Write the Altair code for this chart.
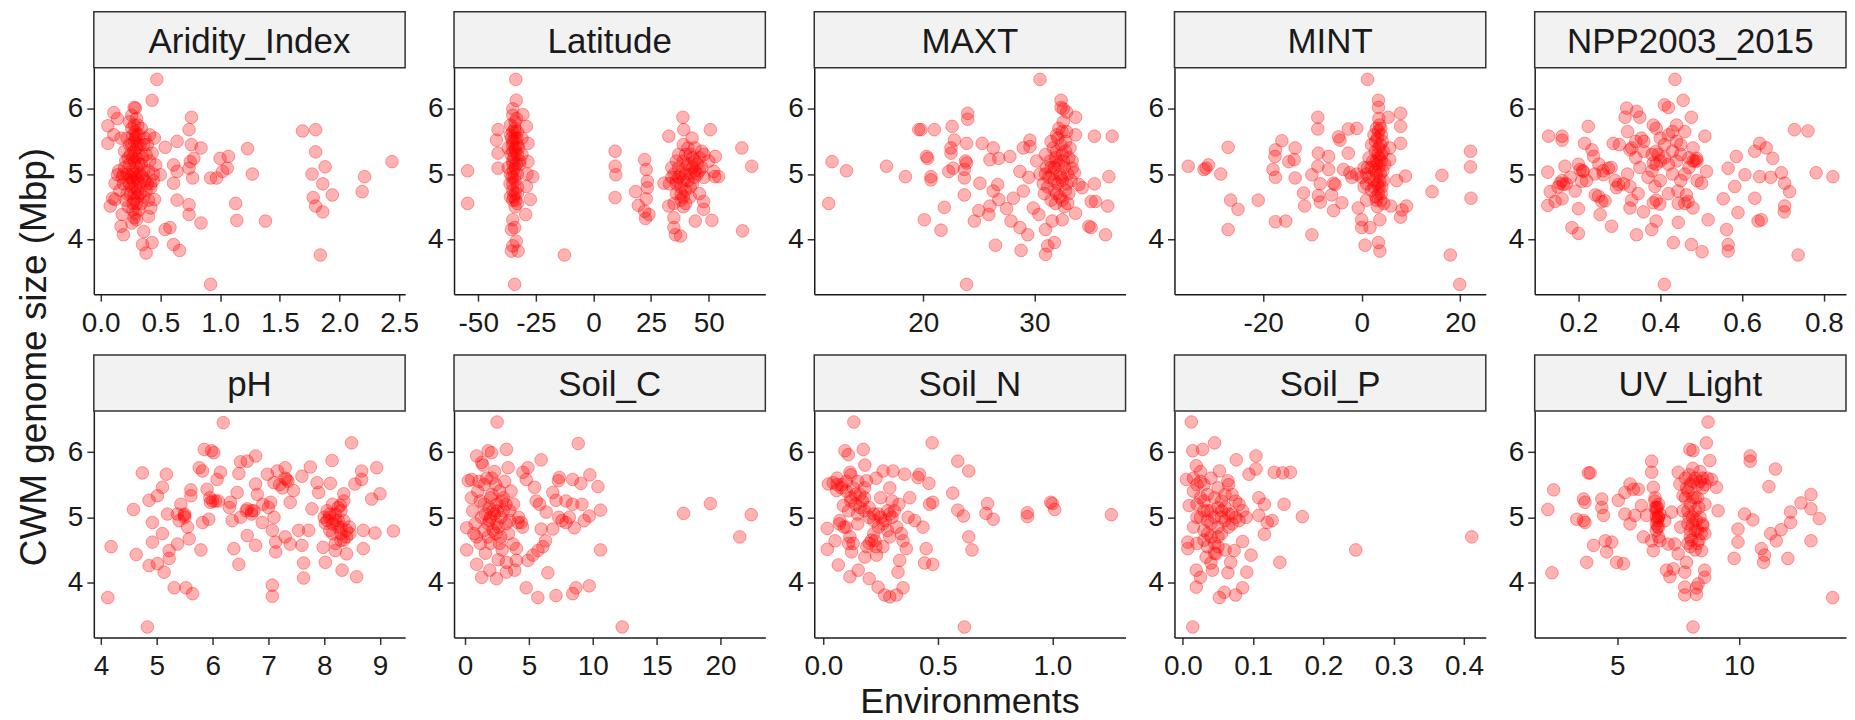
import altair as alt
import pandas as pd

FONT = "Liberation Sans"
PANEL_W = 312
PANEL_H = 227
Y_DOMAIN = [3.16, 6.63]
Y_TICKS = [4, 5, 6]

ARIDITY = [
    (0.47, 6.45), (0.43, 6.13), (0.92, 3.31), (0.76, 5.87), (0.74, 5.68), (1.69, 5.66), (1.80, 5.68),
    (1.80, 5.34), (1.88, 5.11), (1.77, 5.00), (1.86, 4.85), (1.94, 4.68), (1.78, 4.64), (1.80, 4.51),
    (1.86, 4.42), (1.84, 3.76), (2.19, 4.73), (2.21, 4.96), (2.44, 5.19), (1.23, 5.39), (1.27, 5.00),
    (1.13, 4.55), (1.14, 4.29), (1.38, 4.28), (1.07, 5.27), (1.00, 5.24), (0.97, 4.94), (0.92, 4.94),
    (1.02, 5.04), (1.06, 5.09), (0.84, 4.25), (0.84, 5.40), (0.76, 5.45), (0.75, 5.19), (0.78, 5.24),
    (0.74, 5.09), (0.77, 4.94), (0.74, 4.53), (0.74, 4.38), (0.64, 5.50), (0.54, 5.41), (0.61, 5.14),
    (0.64, 5.04), (0.61, 4.86), (0.64, 4.60), (0.54, 4.15), (0.58, 4.18), (0.61, 3.92), (0.66, 3.83),
    (0.50, 4.99), (0.06, 5.74), (0.06, 5.47), (0.11, 5.94), (0.14, 5.85), (0.11, 5.60), (0.10, 4.63),
    (0.08, 4.51), (0.12, 4.61), (0.17, 4.20), (0.19, 4.07), (0.18, 4.38), (0.14, 4.99), (0.12, 4.86),
    (0.28, 6.02), (0.29, 6.01), (0.24, 5.80), (0.36, 4.12), (0.35, 3.92), (0.38, 3.79), (0.43, 3.95),
    (0.26, 4.25), (0.28, 4.33), (0.42, 4.48), (0.45, 4.61), (0.45, 5.55), (0.41, 5.60), (0.43, 5.32),
    (0.46, 5.14), (0.42, 4.79), (0.22, 5.55), (0.24, 5.45), (0.25, 5.30), (0.26, 5.70), (0.27, 5.60),
    (0.28, 5.50), (0.28, 5.20), (0.29, 5.65), (0.30, 5.40), (0.30, 5.10), (0.31, 5.75), (0.32, 5.30),
    (0.33, 5.00), (0.27, 4.90), (0.26, 4.80), (0.25, 4.70), (0.28, 4.60), (0.30, 4.55), (0.31, 4.75),
    (0.33, 4.85), (0.34, 5.15), (0.35, 4.95), (0.36, 5.45), (0.38, 5.30), (0.38, 4.75), (0.40, 4.60),
    (0.40, 5.05), (0.42, 4.85), (0.20, 5.10), (0.19, 4.85), (0.18, 4.95), (0.21, 4.60), (0.23, 4.50),
    (0.22, 5.00), (0.20, 5.35), (0.17, 5.55), (0.15, 5.05), (0.16, 4.75), (0.29, 4.40), (0.32, 4.45),
    (0.36, 4.65), (0.26, 5.90), (0.30, 5.85), (0.34, 5.70), (0.37, 5.55), (0.24, 5.15), (0.29, 5.00),
    (0.31, 4.90), (0.23, 4.90), (0.27, 5.05),
    (0.27, 5.25), (0.28, 5.35), (0.29, 5.55), (0.30, 5.60), (0.31, 5.45), (0.32, 5.15), (0.30, 5.25),
    (0.29, 4.80), (0.28, 4.70), (0.31, 4.65), (0.27, 4.55), (0.26, 5.00), (0.25, 4.95), (0.24, 4.85),
    (0.33, 4.70), (0.34, 4.55), (0.35, 5.25), (0.36, 5.05), (0.37, 4.90), (0.39, 4.85), (0.41, 5.20),
    (0.39, 5.45), (0.22, 4.70), (0.21, 5.20), (0.19, 5.00), (0.23, 5.25), (0.26, 5.45), (0.28, 5.75),
    (0.30, 4.95), (0.32, 5.60), (0.33, 5.45), (0.27, 4.45), (0.30, 4.30), (0.40, 4.35), (0.44, 4.90),
    (0.44, 5.00),
]

LATITUDE = [
    (-33.7, 6.45), (-33.5, 6.13), (-35.0, 6.00), (-34.2, 3.31), (-35.6, 3.82), (-32.7, 3.82), (-35.0, 3.90),
    (-33.5, 3.97), (-35.6, 4.15), (-34.2, 4.18), (-35.0, 4.30), (-29.4, 4.38), (-27.4, 4.61), (-26.3, 4.96),
    (-29.1, 4.81), (-28.8, 5.00), (-28.4, 5.19), (-28.4, 5.47), (-29.1, 5.73), (-30.6, 5.91), (-41.4, 5.68),
    (-42.1, 5.52), (-41.4, 5.32), (-41.4, 5.09), (-54.6, 5.05), (-54.6, 4.55), (-12.6, 3.76),
    (-36, 5.60), (-35, 5.50), (-34, 5.40), (-33, 5.30), (-35, 5.20), (-34, 5.10), (-36, 5.75), (-33, 5.65),
    (-34, 5.55), (-35, 5.35), (-33, 5.45), (-32, 5.20), (-36, 5.00), (-35, 4.85), (-34, 4.70), (-35, 4.60),
    (-33, 4.55), (-36, 4.65), (-34, 4.90), (-33, 5.00), (-32, 5.15), (-31, 5.55), (-31, 5.30), (-37, 5.40),
    (-37, 5.10), (-34, 4.50), (-35, 4.75), (-33, 4.80), (-34, 5.80), (-35, 5.90),
    (-34.5, 5.25), (-33.8, 5.35), (-35.2, 5.45), (-34.0, 5.65), (-33.2, 5.55), (-35.5, 5.55), (-34.8, 5.05),
    (-33.5, 5.15), (-35.8, 5.30), (-34.3, 4.95), (-33.0, 4.70), (-35.3, 4.95), (-34.6, 4.65), (-33.7, 4.60),
    (-36.2, 4.85), (-32.5, 5.40), (-34.1, 5.70), (-35.0, 5.65), (-33.4, 5.85), (-34.9, 5.15),
    (9.4, 5.35), (9.4, 5.12), (9.7, 4.99), (9.4, 4.64), (18.3, 4.73), (19.5, 4.52), (22.2, 5.22),
    (22.9, 5.07), (23.4, 4.89), (23.4, 4.79), (22.9, 4.62), (22.2, 4.43), (22.6, 4.32), (24.1, 4.38),
    (32.7, 5.58), (38.8, 5.87), (39.2, 5.68), (50.7, 5.68), (64.4, 5.40), (68.7, 5.12), (64.7, 4.13),
    (51.4, 4.29), (44.2, 4.28), (47.8, 4.58), (47.8, 4.46), (34.9, 4.18), (35.6, 4.07), (37.8, 4.05),
    (34.9, 4.33), (32.7, 4.51), (30.6, 4.86), (54.3, 4.96), (52.6, 4.96), (52.9, 5.27), (52.2, 5.04),
    (42.8, 5.55), (35, 5.00), (36, 4.90), (37, 5.10), (38, 4.80), (39, 5.20), (40, 5.00), (41, 4.90),
    (42, 5.30), (43, 5.10), (44, 5.20), (45, 5.00), (46, 5.25), (47, 5.10), (48, 4.95), (38, 4.60),
    (39, 4.50), (40, 4.55), (36, 4.70), (34, 5.10), (33, 4.85), (41, 5.40), (44, 5.40), (46, 4.70),
    (43, 4.85), (37, 5.30), (39, 5.45), (42, 4.65), (50, 5.20), (48, 5.30), (35, 4.55),
    (38, 5.00), (40, 5.10), (42, 5.00), (44, 5.05), (39, 4.90), (41, 5.15), (43, 5.25), (45, 5.15),
    (37, 4.95), (36, 5.20), (40, 4.75), (38, 4.70), (42, 4.80), (39, 4.65), (44, 4.95), (46, 5.05),
    (47, 5.35), (40, 5.30), (36, 4.85), (34, 4.95),
]

MAXT = [
    (30.5, 6.45), (23.9, 3.31), (11.5, 4.55), (11.8, 5.19), (13.1, 5.05), (16.7, 5.12), (18.4, 4.96),
    (19.6, 5.68), (19.8, 5.68), (21.0, 5.68), (20.3, 5.27), (20.4, 5.24), (20.7, 4.96), (20.7, 4.91),
    (20.1, 4.30), (21.6, 4.14), (21.9, 4.49), (22.6, 5.73), (22.8, 5.52), (22.5, 5.40), (22.5, 5.32),
    (22.3, 5.04), (22.7, 5.09), (24.0, 5.93), (24.0, 5.84), (23.9, 5.47), (23.8, 5.20), (23.9, 5.17),
    (23.7, 5.07), (23.7, 4.94), (23.7, 4.68), (25.1, 4.86), (25.3, 5.47), (26.3, 5.40), (24.6, 4.28),
    (25.0, 4.44), (26.0, 4.51), (25.9, 4.38), (26.5, 3.91), (28.8, 3.83), (29.4, 4.07), (28.7, 4.18),
    (27.9, 4.28), (27.5, 4.47), (26.8, 4.61), (26.3, 4.74), (26.7, 4.84), (26.0, 5.22), (26.8, 5.24),
    (27.8, 5.27), (29.0, 5.40), (29.6, 5.52), (29.6, 5.42), (28.7, 5.04), (28.1, 4.63), (29.0, 4.74),
    (29.9, 4.48), (30.4, 4.38), (31.0, 4.15), (31.2, 3.90), (31.0, 3.77), (31.8, 3.95), (31.6, 4.28),
    (32.5, 4.30), (33.7, 4.40), (32.4, 6.13), (32.4, 6.02), (33.7, 5.87), (33.7, 5.60), (35.4, 5.58),
    (37.0, 5.58), (36.7, 4.96), (35.4, 4.85), (34.0, 4.84), (34.3, 4.79), (35.1, 4.58), (35.5, 4.58),
    (36.6, 4.51), (36.4, 4.07), (35.1, 4.18), (34.9, 4.20), (33.4, 5.09), (33.6, 5.02),
    (31.0, 5.00), (31.5, 5.10), (32.0, 5.20), (32.5, 5.30), (32.8, 5.50), (32.2, 5.70), (32.6, 5.80),
    (31.8, 4.90), (31.2, 4.80), (32.0, 4.70), (32.5, 4.60), (33.0, 4.55), (31.5, 4.60), (32.8, 4.75),
    (33.0, 5.00), (33.2, 5.40), (31.0, 5.30), (30.5, 5.00), (30.8, 4.85), (31.7, 5.40), (32.3, 5.00),
    (32.7, 5.10), (33.3, 4.90), (32.1, 5.55), (31.4, 5.20), (32.9, 5.65), (33.1, 5.25), (31.9, 4.55),
    (30.2, 5.20), (29.5, 4.95),
    (31.8, 5.10), (32.2, 5.15), (32.6, 5.20), (32.0, 5.35), (32.4, 5.45), (32.8, 5.35), (31.6, 5.00),
    (32.1, 4.85), (32.5, 4.90), (32.9, 4.85), (31.3, 4.95), (31.8, 4.75), (32.3, 4.65), (32.7, 4.50),
    (33.1, 4.70), (31.5, 5.50), (32.0, 5.60), (32.5, 5.65), (32.9, 5.95), (32.6, 6.00), (31.1, 5.10),
    (30.9, 4.70), (33.4, 5.20), (32.4, 4.95), (31.9, 5.25),
]

MINT = [
    (1.2, 6.45), (19.9, 3.31), (18.0, 3.76), (22.1, 5.35), (22.1, 5.11), (22.2, 4.63), (16.3, 4.98),
    (14.3, 4.73), (-35.2, 5.12), (-31.6, 5.09), (-31.1, 5.14), (-32.0, 5.07), (-28.6, 5.00), (-27.1, 5.41),
    (-26.6, 4.60), (-25.1, 4.46), (-27.1, 4.15), (-21.0, 4.60), (-17.5, 4.27), (-15.4, 4.28), (-16.2, 5.51),
    (-17.5, 5.37), (-17.6, 5.27), (-18.0, 5.07), (-17.5, 4.95), (-14.8, 5.19), (-13.7, 5.22), (-13.5, 5.40),
    (-13.5, 4.94), (-11.8, 4.71), (-11.6, 4.51), (-10.1, 4.07), (-8.9, 5.87), (-8.9, 5.69), (-8.8, 5.32),
    (-8.9, 5.12), (-10.1, 4.99), (-8.4, 4.85), (-8.8, 4.67), (-8.4, 4.57), (-6.7, 5.27), (-6.7, 5.07),
    (-5.7, 4.86), (-5.4, 4.84), (-6.1, 4.68), (-5.7, 4.44), (-4.0, 4.56), (-4.7, 5.57), (-4.4, 5.52),
    (-2.7, 5.69), (-2.7, 5.32), (-3.7, 5.07), (-2.4, 5.02), (-0.7, 4.48), (0.0, 4.30), (0.0, 4.18),
    (0.7, 3.91), (1.7, 4.18), (3.4, 6.13), (3.4, 6.02), (3.7, 3.82), (3.4, 3.95), (3.7, 4.30), (5.4, 5.87),
    (7.9, 5.93), (7.9, 5.73), (7.9, 5.47), (7.1, 4.90), (8.9, 4.97), (9.1, 4.51), (8.2, 4.45), (7.9, 4.34),
    (5.9, 4.51), (5.7, 5.22), (5.7, 5.40), (-1.0, 5.70),
    (1.0, 5.00), (2.0, 5.10), (3.0, 5.20), (3.5, 5.40), (4.0, 5.60), (3.0, 5.70), (4.0, 5.30), (2.5, 4.90),
    (3.5, 4.80), (4.0, 4.70), (3.0, 4.60), (4.5, 4.55), (2.0, 4.75), (1.0, 4.85), (0.5, 5.10), (3.8, 5.00),
    (4.2, 5.50), (3.2, 5.55), (2.8, 5.35), (4.4, 4.90), (1.5, 5.25), (0.0, 4.95), (2.0, 5.45), (3.6, 5.75),
    (3.2, 4.50), (4.7, 5.15), (-1.0, 5.00), (-2.0, 4.95), (1.0, 4.60), (2.5, 5.60),
    (3.0, 5.00), (3.5, 5.10), (4.0, 5.20), (3.3, 5.30), (3.8, 5.45), (3.4, 5.65), (2.8, 5.50), (3.2, 4.85),
    (3.7, 4.90), (4.1, 4.80), (3.4, 4.70), (3.9, 4.60), (2.7, 5.05), (2.3, 5.20), (3.1, 5.15), (3.6, 5.25),
    (4.3, 5.05), (2.5, 4.80), (1.5, 4.95), (0.5, 4.80), (1.2, 5.10), (4.4, 5.35), (3.5, 5.85), (3.9, 5.70),
    (2.9, 4.65),
]

NPP = [
    (0.436, 6.45), (0.410, 3.31), (0.456, 6.13), (0.420, 6.02), (0.410, 6.06), (0.476, 5.87), (0.318, 6.01),
    (0.314, 5.87), (0.342, 5.96), (0.350, 5.87), (0.383, 5.75), (0.390, 5.70), (0.127, 5.58), (0.160, 5.58),
    (0.160, 5.52), (0.224, 5.73), (0.215, 5.47), (0.233, 5.37), (0.237, 5.27), (0.125, 5.03), (0.131, 4.73),
    (0.125, 4.52), (0.143, 4.58), (0.160, 4.62), (0.155, 4.86), (0.163, 4.84), (0.167, 5.12), (0.184, 4.18),
    (0.200, 4.09), (0.200, 4.47), (0.192, 4.74), (0.208, 4.89), (0.204, 5.07), (0.212, 5.04), (0.241, 4.68),
    (0.249, 4.66), (0.257, 4.58), (0.253, 4.38), (0.265, 4.59), (0.261, 4.99), (0.281, 4.20), (0.273, 5.09),
    (0.285, 5.47), (0.298, 4.84), (0.293, 4.79), (0.326, 4.48), (0.326, 5.37), (0.326, 4.81), (0.342, 4.07),
    (0.346, 4.70), (0.359, 4.42), (0.354, 5.55), (0.379, 4.15), (0.390, 4.28), (0.383, 4.56), (0.399, 4.54),
    (0.387, 4.81), (0.383, 5.17), (0.395, 5.30), (0.432, 3.95), (0.444, 4.26), (0.443, 4.74), (0.444, 4.55),
    (0.476, 3.92), (0.502, 3.81), (0.480, 4.48), (0.464, 4.68), (0.468, 4.58), (0.485, 5.20), (0.489, 5.24),
    (0.501, 4.86), (0.509, 5.58), (0.513, 5.04), (0.517, 4.30), (0.554, 4.62), (0.566, 5.09), (0.562, 4.15),
    (0.566, 3.92), (0.566, 3.82), (0.590, 4.41), (0.586, 5.27), (0.582, 4.81), (0.607, 4.99), (0.631, 5.35),
    (0.643, 5.47), (0.659, 5.40), (0.675, 5.24), (0.631, 4.63), (0.639, 4.28), (0.647, 4.30), (0.643, 4.96),
    (0.670, 4.95), (0.696, 5.02), (0.704, 4.86), (0.716, 4.73), (0.704, 4.51), (0.703, 4.42), (0.728, 5.68),
    (0.761, 5.66), (0.737, 3.76), (0.781, 5.02), (0.822, 4.96),
    (0.33, 5.40), (0.36, 5.50), (0.38, 5.30), (0.40, 5.20), (0.42, 5.60), (0.44, 5.50), (0.45, 5.30),
    (0.47, 5.10), (0.43, 5.00), (0.41, 5.45), (0.39, 5.15), (0.37, 4.95), (0.35, 5.10), (0.34, 5.25),
    (0.46, 5.65), (0.44, 5.75), (0.48, 5.40), (0.40, 4.90), (0.32, 5.00), (0.31, 4.85), (0.29, 4.90),
    (0.26, 5.05), (0.22, 4.90), (0.18, 4.95), (0.17, 4.85), (0.20, 5.15), (0.25, 5.15), (0.42, 4.70),
    (0.45, 4.90), (0.49, 4.90),
    (0.39, 5.35), (0.41, 5.25), (0.43, 5.35), (0.45, 5.45), (0.47, 5.25), (0.48, 5.20), (0.49, 5.20),
    (0.42, 5.15), (0.40, 5.55), (0.44, 5.20), (0.46, 5.00), (0.38, 5.05), (0.36, 5.35), (0.34, 5.50),
    (0.32, 5.65), (0.43, 5.65), (0.30, 5.45), (0.28, 5.10), (0.16, 4.90), (0.15, 4.80), (0.21, 5.05),
    (0.24, 5.00), (0.33, 4.60), (0.39, 4.60), (0.46, 4.55),
]

PH = [
    (6.19, 6.45), (4.83, 3.32), (4.12, 3.77), (4.18, 4.55), (4.63, 4.43), (4.58, 5.12), (4.74, 5.68),
    (4.86, 5.26), (4.92, 4.92), (4.92, 4.62), (4.86, 4.26), (5.01, 4.29), (5.13, 4.16), (5.10, 4.75),
    (5.17, 5.66), (5.10, 5.46), (5.01, 5.33), (5.19, 5.05), (5.22, 4.49), (5.22, 4.37), (5.31, 3.92),
    (5.52, 3.92), (5.64, 3.83), (5.37, 5.05), (5.43, 5.20), (5.49, 5.03), (5.55, 4.85), (5.58, 4.67),
    (5.37, 4.59), (5.61, 5.42), (5.61, 5.33), (5.79, 4.50), (5.76, 5.76), (5.82, 5.71), (5.85, 6.04),
    (5.98, 6.02), (6.02, 5.99), (5.90, 5.43), (5.82, 4.92), (5.93, 4.97), (5.96, 5.23), (6.05, 5.25),
    (6.08, 5.58), (6.14, 5.69), (6.38, 4.52), (6.47, 4.28), (6.32, 5.23), (6.35, 4.95), (6.50, 5.85),
    (6.62, 5.86), (6.77, 5.94), (6.62, 4.72), (6.77, 4.57), (6.47, 5.67), (6.44, 5.38), (6.62, 5.13),
    (6.74, 5.10), (6.77, 5.51), (6.89, 4.92), (6.98, 5.66), (7.04, 5.23), (7.07, 4.80), (7.07, 3.96),
    (7.07, 3.79), (7.13, 4.62), (7.13, 4.47), (7.10, 5.53), (7.16, 5.71), (7.30, 5.76), (7.33, 5.58),
    (7.30, 4.70), (7.39, 4.59), (7.39, 5.23), (7.45, 5.41), (7.54, 4.80), (7.60, 4.57), (7.63, 4.30),
    (7.63, 4.07), (7.72, 4.80), (7.60, 5.63), (7.75, 5.77), (7.78, 5.13), (7.90, 5.38), (7.87, 5.53),
    (8.02, 4.91), (8.02, 4.31), (7.98, 4.54), (8.11, 5.52), (8.14, 5.87), (8.20, 4.49), (8.29, 5.18),
    (8.35, 5.36), (8.32, 4.19), (8.40, 4.44), (8.46, 4.75), (8.49, 6.14), (8.55, 5.51), (8.58, 4.09),
    (8.67, 5.71), (8.67, 5.58), (8.70, 4.80), (8.70, 4.52), (8.85, 5.28), (8.91, 4.76), (8.94, 5.76),
    (9.00, 5.36), (9.24, 4.79),
    (8.05, 5.10), (8.10, 5.00), (8.15, 4.90), (8.20, 5.05), (8.25, 4.85), (8.30, 4.75), (8.35, 4.65),
    (8.15, 5.20), (8.25, 4.95), (8.40, 4.80), (8.10, 4.80), (8.30, 5.10), (6.00, 5.25), (6.30, 5.15),
    (6.60, 5.10), (6.70, 5.05), (6.90, 5.20), (7.20, 5.50), (7.35, 5.55), (7.10, 5.00), (6.50, 5.00),
    (5.50, 5.00), (5.40, 4.95), (6.80, 5.35),
    (8.10, 5.05), (8.20, 4.95), (8.25, 5.15), (8.30, 4.85), (8.35, 4.95), (8.15, 4.75), (8.30, 4.65),
    (8.40, 4.70), (8.00, 5.00), (8.05, 4.95), (8.45, 4.85), (8.35, 5.25), (8.20, 4.60), (6.10, 5.25),
    (6.70, 5.10), (7.30, 5.60), (7.00, 5.15), (5.50, 5.05), (5.95, 5.30), (7.25, 5.45),
]

SOIL_C = [
    (2.51, 6.46), (12.3, 3.32), (8.86, 6.13), (3.24, 6.04), (1.81, 6.02), (2.07, 5.99), (0.91, 5.94),
    (1.30, 5.84), (5.96, 5.88), (3.37, 5.76), (4.92, 5.76), (4.53, 5.69), (4.79, 5.58), (7.38, 5.61),
    (7.31, 5.56), (8.42, 5.58), (9.77, 5.65), (9.07, 5.52), (10.4, 5.47), (6.87, 5.38), (5.44, 5.46),
    (5.57, 5.25), (5.83, 5.20), (6.35, 5.08), (7.12, 5.26), (7.90, 5.25), (8.42, 5.20), (9.15, 5.20),
    (10.6, 5.11), (9.72, 5.02), (9.33, 4.95), (7.33, 5.00), (7.59, 4.95), (8.16, 5.00), (7.90, 4.92),
    (8.55, 4.84), (6.87, 4.82), (5.96, 4.82), (6.30, 4.64), (6.09, 4.55), (10.6, 4.50), (5.70, 4.49),
    (5.31, 4.42), (4.92, 4.34), (6.48, 4.15), (4.79, 3.92), (5.70, 3.77), (7.12, 3.80), (8.42, 3.83),
    (8.68, 3.92), (9.72, 3.95), (17.1, 5.06), (19.2, 5.21), (22.4, 5.04), (21.5, 4.70), (1.30, 4.08),
    (2.46, 4.06), (3.24, 4.16), (3.89, 4.19), (1.94, 4.19), (0.91, 4.28), (0.13, 4.50), (0.13, 4.84),
    (0.26, 5.56), (0.52, 5.58), (3.24, 4.31), (4.02, 4.34), (4.15, 4.92), (4.40, 4.92), (3.76, 4.59),
    (4.02, 4.52),
    (1.0, 5.40), (1.5, 5.20), (2.0, 5.00), (2.5, 5.10), (3.0, 5.30), (2.2, 4.80), (1.8, 4.70), (1.2, 4.60),
    (0.8, 4.90), (2.7, 4.60), (3.2, 4.90), (3.5, 5.10), (2.4, 5.50), (1.7, 5.60), (1.3, 5.00), (0.6, 5.10),
    (2.9, 4.50), (3.8, 5.20), (2.1, 5.35), (1.6, 4.45), (2.6, 4.35), (3.4, 4.75), (0.9, 4.70), (2.3, 5.70),
    (3.1, 5.55), (1.4, 5.80), (2.8, 5.00), (0.5, 5.30), (1.9, 4.95), (3.6, 5.40),
    (1.5, 5.50), (2.0, 5.30), (2.5, 5.20), (2.2, 5.10), (1.8, 4.90), (2.5, 4.90), (3.0, 5.10), (2.7, 5.40),
    (1.2, 5.25), (2.0, 4.60), (2.4, 4.75), (1.5, 4.80), (3.2, 5.20), (2.9, 5.25), (1.9, 5.15), (2.3, 5.05),
    (2.6, 4.85), (1.1, 5.55), (0.7, 4.75), (3.5, 4.95), (4.2, 5.00), (4.5, 4.85), (2.1, 5.60), (1.6, 5.05),
    (2.8, 4.70),
]

SOIL_N = [
    (0.133, 6.46), (0.616, 3.32), (0.475, 6.14), (0.174, 6.04), (0.094, 6.02), (0.109, 5.96), (0.587, 5.86),
    (0.635, 5.71), (0.565, 5.37), (0.587, 5.11), (0.612, 5.02), (0.635, 4.70), (0.649, 4.50), (0.717, 5.21),
    (0.710, 5.06), (0.742, 4.97), (0.891, 5.07), (0.891, 5.01), (0.993, 5.23), (1.000, 5.21), (1.010, 5.12),
    (1.258, 5.04), (0.017, 4.83), (0.017, 4.51), (0.051, 4.64), (0.065, 4.27), (0.116, 4.09), (0.152, 4.19),
    (0.200, 4.06), (0.239, 3.93), (0.268, 3.81), (0.290, 3.78), (0.319, 3.81), (0.348, 3.92), (0.326, 4.16),
    (0.333, 4.34), (0.442, 4.30), (0.478, 4.28), (0.449, 4.52), (0.464, 5.20), (0.478, 5.23), (0.461, 5.52),
    (0.420, 5.66), (0.413, 5.61), (0.355, 5.66), (0.304, 5.71), (0.261, 5.71), (0.181, 5.80), (0.116, 5.69),
    (0.043, 5.53), (0.022, 5.51), (0.058, 5.41), (0.087, 5.18), (0.072, 4.95), (0.116, 4.70), (0.123, 4.47),
    (0.181, 4.39), (0.225, 4.64), (0.232, 4.42), (0.290, 4.70), (0.348, 4.64), (0.362, 4.52), (0.399, 4.95),
    (0.435, 4.85), (0.377, 5.30), (0.188, 5.56),
    (0.08, 5.50), (0.10, 5.40), (0.12, 5.30), (0.14, 5.20), (0.16, 5.35), (0.18, 5.10), (0.20, 5.00),
    (0.22, 4.95), (0.24, 5.05), (0.26, 4.90), (0.28, 5.10), (0.30, 5.00), (0.32, 4.85), (0.34, 4.75),
    (0.22, 4.75), (0.20, 4.60), (0.13, 4.60), (0.10, 4.85), (0.15, 5.55), (0.06, 5.60), (0.12, 5.65),
    (0.25, 5.30), (0.29, 5.45), (0.33, 5.20), (0.37, 5.00), (0.18, 5.45), (0.23, 5.60), (0.30, 5.25),
    (0.15, 4.90), (0.26, 4.55),
    (0.12, 5.25), (0.14, 5.35), (0.16, 5.15), (0.13, 5.45), (0.10, 5.55), (0.08, 5.45), (0.06, 5.50),
    (0.11, 5.10), (0.17, 5.25), (0.20, 5.15), (0.22, 5.05), (0.25, 5.00), (0.27, 4.95), (0.24, 4.85),
    (0.21, 4.65), (0.23, 4.55), (0.19, 4.55), (0.09, 4.85), (0.11, 4.60), (0.29, 5.05), (0.31, 5.10),
    (0.15, 5.05), (0.18, 5.30), (0.07, 4.90), (0.28, 4.80),
]

SOIL_P = [
    (0.012, 6.46), (0.014, 3.32), (0.045, 6.14), (0.014, 6.02), (0.028, 6.04), (0.076, 5.88), (0.104, 5.94),
    (0.104, 5.74), (0.130, 5.69), (0.142, 5.68), (0.153, 5.69), (0.094, 5.66), (0.144, 5.20), (0.170, 5.01),
    (0.127, 4.95), (0.116, 4.74), (0.097, 4.42), (0.138, 4.31), (0.091, 4.16), (0.085, 3.92), (0.075, 3.81),
    (0.059, 3.85), (0.052, 3.77), (0.019, 3.93), (0.025, 4.08), (0.019, 4.19), (0.042, 4.19), (0.064, 4.15),
    (0.068, 4.31), (0.073, 4.49), (0.085, 4.63), (0.246, 4.50), (0.411, 4.70), (0.007, 4.62), (0.007, 4.52),
    (0.009, 5.18), (0.005, 5.58), (0.019, 5.79), (0.052, 5.71), (0.064, 5.56), (0.108, 5.30), (0.116, 5.20),
    (0.108, 5.03), (0.120, 4.92), (0.033, 4.39), (0.047, 4.44),
    (0.015, 5.40), (0.020, 5.20), (0.025, 5.00), (0.030, 4.80), (0.035, 5.10), (0.040, 4.90), (0.045, 5.30),
    (0.050, 4.70), (0.055, 5.00), (0.060, 5.15), (0.065, 4.85), (0.070, 5.05), (0.075, 5.25), (0.080, 4.95),
    (0.085, 5.10), (0.030, 5.50), (0.040, 5.60), (0.020, 4.60), (0.035, 4.55), (0.045, 4.60), (0.050, 5.45),
    (0.060, 4.50), (0.025, 5.70), (0.015, 4.85), (0.090, 5.00), (0.070, 5.35), (0.055, 4.75), (0.040, 4.30),
    (0.030, 5.25), (0.065, 5.50),
    (0.020, 5.50), (0.025, 5.30), (0.030, 5.10), (0.035, 4.95), (0.040, 5.10), (0.045, 5.00), (0.050, 4.85),
    (0.055, 5.10), (0.060, 4.95), (0.065, 5.05), (0.070, 4.90), (0.040, 4.70), (0.030, 4.65), (0.050, 4.55),
    (0.045, 4.45), (0.020, 5.00), (0.015, 5.60), (0.025, 5.55), (0.035, 5.35), (0.055, 5.25), (0.060, 5.35),
    (0.075, 5.00), (0.080, 5.20), (0.050, 5.15), (0.035, 4.75),
]

UV_LIGHT = [
    (8.73, 6.46), (8.11, 3.32), (13.85, 3.77), (2.14, 5.12), (2.38, 5.42), (2.31, 4.15), (3.33, 4.97),
    (3.61, 4.95), (3.67, 4.92), (3.61, 5.28), (3.67, 5.23), (3.81, 5.68), (3.88, 5.68), (3.74, 4.31),
    (4.02, 4.57), (4.36, 5.28), (4.36, 5.15), (4.43, 5.03), (4.50, 4.64), (4.56, 4.47), (4.77, 4.62),
    (4.97, 4.31), (5.25, 4.29), (5.04, 5.26), (5.31, 5.38), (5.52, 5.51), (5.66, 5.43), (5.31, 5.05),
    (5.52, 4.90), (5.72, 5.03), (5.86, 5.43), (5.99, 5.18), (6.07, 4.70), (6.20, 5.03), (6.41, 5.86),
    (6.41, 5.69), (6.48, 5.46), (6.41, 4.64), (6.48, 4.49), (6.54, 5.25), (6.61, 5.15), (6.68, 5.00),
    (6.65, 4.85), (6.75, 4.64), (6.95, 4.95), (7.09, 4.59), (7.02, 4.19), (7.16, 4.09), (7.30, 4.21),
    (7.23, 5.08), (7.36, 4.59), (7.50, 4.44), (7.50, 5.69), (7.57, 5.51), (7.70, 5.33), (7.77, 3.93),
    (7.77, 3.81), (7.84, 4.31), (7.77, 4.16), (7.98, 6.04), (8.11, 6.02), (8.25, 3.92), (8.32, 3.98),
    (8.25, 3.82), (8.59, 4.19), (8.59, 4.08), (8.66, 6.14), (8.80, 5.87), (8.87, 5.58), (9.07, 5.46),
    (9.14, 5.10), (8.46, 4.49), (8.52, 4.87), (9.80, 4.37), (9.96, 4.82), (9.96, 4.62), (10.23, 5.05),
    (10.46, 5.94), (10.46, 5.86), (10.57, 4.96), (10.92, 4.52), (11.01, 4.31), (11.05, 4.42), (11.23, 5.47),
    (11.30, 4.75), (11.50, 5.74), (11.53, 4.64), (11.73, 4.81), (12.01, 4.37), (12.12, 5.08), (12.12, 4.92),
    (12.55, 5.22), (12.96, 5.35), (12.96, 5.13), (12.96, 4.64), (13.30, 4.98),
    (7.80, 5.60), (7.90, 5.40), (8.00, 5.20), (8.10, 5.00), (8.20, 4.80), (8.30, 4.60), (8.00, 4.70),
    (7.90, 4.90), (8.20, 5.30), (8.30, 5.50), (8.40, 5.70), (8.10, 5.75), (7.70, 5.10), (7.60, 4.85),
    (8.50, 4.90), (8.60, 5.20), (8.70, 5.60), (8.40, 5.00), (8.00, 4.55), (7.80, 5.30), (8.50, 5.45),
    (8.20, 4.50), (8.60, 4.75), (7.95, 5.65), (8.35, 5.15), (6.60, 5.10), (6.65, 4.95), (6.70, 5.20),
    (6.60, 4.80), (6.55, 5.30), (6.70, 4.70), (6.75, 5.05),
    (8.00, 5.50), (8.10, 5.30), (8.20, 5.10), (8.10, 4.90), (8.30, 4.80), (8.00, 4.80), (7.90, 5.10),
    (8.20, 5.60), (8.40, 5.55), (8.30, 5.30), (8.10, 5.55), (7.85, 5.45), (8.25, 4.95), (8.45, 4.75),
    (8.50, 5.60), (8.60, 5.50), (8.05, 4.65), (7.90, 4.60), (8.35, 4.65), (7.95, 5.00), (6.60, 5.00),
    (6.65, 5.15), (6.60, 4.90), (6.70, 5.00), (6.55, 5.15), (6.70, 4.85),
]

# name, data, x-domain, tick values, label style
ROW1 = [
    ("Aridity_Index", ARIDITY, [-0.058, 2.55], [0, 0.5, 1.0, 1.5, 2.0, 2.5], ".1f"),
    ("Latitude", LATITUDE, [-60.5, 74.6], [-50, -25, 0, 25, 50], "int"),
    ("MAXT", MAXT, [10.2, 38.2], [20, 30], "int"),
    ("MINT", MINT, [-38.0, 25.2], [-20, 0, 20], "int"),
    ("NPP2003_2015", NPP, [0.093, 0.854], [0.2, 0.4, 0.6, 0.8], ".1f"),
]
ROW2 = [
    ("pH", PH, [3.87, 9.45], [4, 5, 6, 7, 8, 9], "int"),
    ("Soil_C", SOIL_C, [-0.86, 23.5], [0, 5, 10, 15, 20], "int"),
    ("Soil_N", SOIL_N, [-0.04, 1.32], [0.0, 0.5, 1.0], ".1f"),
    ("Soil_P", SOIL_P, [-0.012, 0.431], [0.0, 0.1, 0.2, 0.3, 0.4], ".1f"),
    ("UV_Light", UV_LIGHT, [1.6, 14.4], [5, 10], "int"),
]

TEXT_COLOR = "#1a1a1a"


def make_panel(name, pairs, domain, ticks, style, ytitle=False, xtitle=False):
    df = pd.DataFrame(pairs, columns=["x", "y"])
    if style == "int":
        xaxis = alt.Axis(values=ticks, labelExpr="'' + datum.value", title=None, grid=False,
                         tickSize=7, labelPadding=8, labelFlush=False, labelOverlap=False)
    else:
        xaxis = alt.Axis(values=ticks, format=style, title=None, grid=False,
                         tickSize=7, labelPadding=8, labelFlush=False, labelOverlap=False)
    yaxis = alt.Axis(values=Y_TICKS, format="d", title=None, grid=False, tickSize=7,
                     labelPadding=4, labelFlush=False, labelOverlap=False)
    points = alt.Chart(df).mark_point(
        filled=True, shape="circle", size=160, fill="#ff0000", stroke="#ff0000",
        fillOpacity=0.3, strokeOpacity=0.35, strokeWidth=1,
    ).encode(
        x=alt.X("x:Q", scale=alt.Scale(domain=domain, nice=False, zero=False), axis=xaxis),
        y=alt.Y("y:Q", scale=alt.Scale(domain=Y_DOMAIN, nice=False, zero=False), axis=yaxis),
    )
    one = pd.DataFrame({"k": [0]})
    strip = alt.Chart(one).mark_rect(fill="#f2f2f2", stroke="#333333", strokeWidth=1.5).encode(
        x=alt.value(0), x2=alt.value(PANEL_W), y=alt.value(-56), y2=alt.value(0)
    )
    label = alt.Chart(one).mark_text(
        text=name, font=FONT, fontSize=35, color=TEXT_COLOR, align="center", baseline="alphabetic"
    ).encode(x=alt.value(PANEL_W / 2), y=alt.value(-15))
    layers = [points, strip, label]
    if ytitle:
        layers.append(alt.Chart(one).mark_text(
            text="CWM genome size (Mbp)", font=FONT, fontSize=37, color=TEXT_COLOR,
            angle=270, align="center", baseline="alphabetic"
        ).encode(x=alt.value(-48), y=alt.value(290)))
    if xtitle:
        layers.append(alt.Chart(one).mark_text(
            text="Environments", font=FONT, fontSize=36, color=TEXT_COLOR,
            align="center", baseline="alphabetic"
        ).encode(x=alt.value(PANEL_W / 2), y=alt.value(PANEL_H + 76)))
    return alt.layer(*layers).properties(width=PANEL_W, height=PANEL_H)


row1 = alt.hconcat(
    *[make_panel(*p, ytitle=(i == 0)) for i, p in enumerate(ROW1)], spacing=49, bounds="flush"
)
row2 = alt.hconcat(
    *[make_panel(*p, xtitle=(i == 2)) for i, p in enumerate(ROW2)], spacing=49, bounds="flush"
)

# with flush bounds the nested rows count as zero height, so spacing = row offset
chart = alt.vconcat(row1, row2, spacing=344, bounds="flush").properties(
    padding={"left": 7, "top": 2, "right": 0, "bottom": 0}
).configure_view(strokeWidth=0).configure_axis(
    domainColor="#1a1a1a", domainWidth=1.5, tickColor="#333333", tickWidth=1.5,
    labelFont=FONT, labelFontSize=28, labelColor=TEXT_COLOR,
)

chart.save("out.html", embed_options={"renderer": "svg", "actions": False})
